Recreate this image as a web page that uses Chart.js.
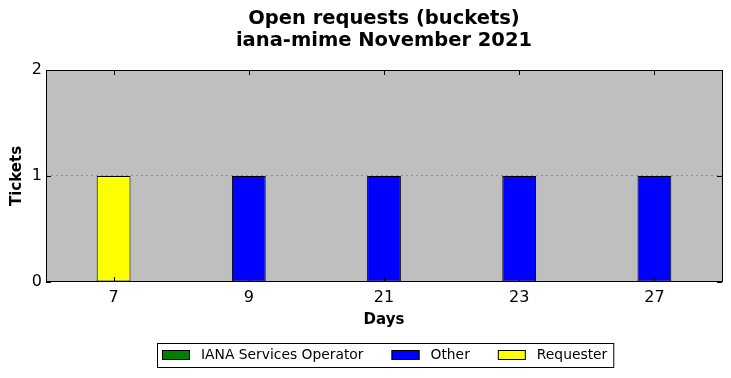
<!DOCTYPE html>
<html>
<head>
<title>Open requests (buckets)</title>
<script src="https://cdn.jsdelivr.net/npm/chart.js@4/dist/chart.umd.min.js"></script>
<style>
body { margin: 0; background: #ffffff; }
#wrap { width: 731px; height: 378px; }
</style>
</head>
<body>
<div id="wrap"><canvas id="myChart" width="731" height="378"></canvas></div>
<script>
// data
var days = ['7', '9', '21', '23', '27'];
var ianaOperator = [0, 0, 0, 0, 0];
var other = [0, 1, 1, 1, 1];
var requester = [1, 0, 0, 0, 0];
var yTicks = [0, 1, 2];

var font = 'DejaVu Sans';

// gray plot background, black frame, inward ticks and a boxed legend under the axis
var framePlugin = {
  id: 'frame',
  beforeDraw: function (chart) {
    var a = chart.chartArea, ctx = chart.ctx;
    ctx.save();
    ctx.fillStyle = '#bfbfbf';
    ctx.fillRect(a.left, a.top, a.right - a.left, a.bottom - a.top);
    ctx.restore();
  },
  afterDatasetsDraw: function (chart) {
    var a = chart.chartArea, ctx = chart.ctx;
    var xs = chart.scales.x, ys = chart.scales.y;
    ctx.save();
    ctx.strokeStyle = '#000000';
    ctx.lineWidth = 1;
    ctx.beginPath();
    xs.ticks.forEach(function (t, i) {
      var px = Math.round(xs.getPixelForTick(i)) + 0.5;
      ctx.moveTo(px, a.top); ctx.lineTo(px, a.top + 5);
      ctx.moveTo(px, a.bottom); ctx.lineTo(px, a.bottom - 5);
    });
    yTicks.forEach(function (v) {
      var py = Math.round(ys.getPixelForValue(v)) + 0.5;
      ctx.moveTo(a.left, py); ctx.lineTo(a.left + 5, py);
      ctx.moveTo(a.right, py); ctx.lineTo(a.right - 5, py);
    });
    ctx.stroke();
    ctx.strokeRect(Math.round(a.left) + 0.5, Math.round(a.top) + 0.5,
      Math.round(a.right - a.left), Math.round(a.bottom - a.top) - 1);
    ctx.restore();
  },
  afterDraw: function (chart) {
    var ctx = chart.ctx;
    var sets = chart.data.datasets;
    ctx.save();
    ctx.font = '13.85px "' + font + '"';
    ctx.textBaseline = 'middle';
    ctx.textAlign = 'left';
    var x = 162, yMid = 355, startX = x;
    sets.forEach(function (d, i) {
      ctx.fillStyle = d.backgroundColor;
      ctx.fillRect(x, 350, 28, 10);
      ctx.strokeStyle = '#000000';
      ctx.lineWidth = 1;
      ctx.strokeRect(x + 0.5, 350.5, 27, 9);
      ctx.fillStyle = '#000000';
      ctx.fillText(d.label, x + 39, yMid);
      x += 39 + ctx.measureText(d.label).width;
      if (i < sets.length - 1) x += 28;
    });
    ctx.strokeRect(startX - 4.5, 343.5, x - startX + 11, 24);
    ctx.restore();
  }
};

var edge = function (c) { return c.raw ? 1 : 0; };

var ctx = document.getElementById('myChart').getContext('2d');
var chart = new Chart(ctx, {
  type: 'bar',
  data: {
    labels: days,
    datasets: [
      { label: 'IANA Services Operator', data: ianaOperator, backgroundColor: '#008000', borderColor: '#000000', borderWidth: edge, borderSkipped: false },
      { label: 'Other', data: other, backgroundColor: '#0000ff', borderColor: '#000000', borderWidth: edge, borderSkipped: false },
      { label: 'Requester', data: requester, backgroundColor: '#ffff00', borderColor: '#000000', borderWidth: edge, borderSkipped: false }
    ]
  },
  options: {
    responsive: false,
    animation: false,
    layout: { padding: { left: 0, right: 9, top: 0, bottom: 39 } },
    datasets: { bar: { barPercentage: 0.25, categoryPercentage: 1.0 } },
    plugins: {
      title: {
        display: true,
        fullSize: false,
        text: ['Open requests (buckets)', 'iana-mime November 2021'],
        color: '#000000',
        font: { family: font, size: 19.5, weight: 'bold', lineHeight: 1.128 },
        padding: { top: 8, bottom: 18 }
      },
      legend: { display: false },
      tooltip: { enabled: false }
    },
    scales: {
      x: {
        stacked: true,
        afterFit: function (s) { s.height = 57; },
        grid: { display: false, drawTicks: false },
        border: { display: false },
        ticks: { color: '#000000', font: { family: font, size: 16 }, padding: 6, maxRotation: 0 },
        title: { display: true, text: 'Days', color: '#000000', font: { family: font, size: 15, weight: 'bold' }, padding: { top: 4, bottom: 10 } }
      },
      y: {
        stacked: true,
        min: 0,
        max: 2,
        afterFit: function (s) { s.width = 46; },
        afterBuildTicks: function (s) { s.ticks = yTicks.map(function (v) { return { value: v }; }); },
        grid: {
          color: function (c) { return c.tick && c.tick.value === 1 ? '#8c8c8c' : 'rgba(0,0,0,0)'; },
          drawTicks: false, lineWidth: 1
        },
        border: { display: false, dash: [2, 3] },
        ticks: { color: '#000000', font: { family: font, size: 16 }, padding: 4 },
        title: { display: true, text: 'Tickets', color: '#000000', font: { family: font, size: 15, weight: 'bold' }, padding: { top: 8, bottom: 0 } }
      }
    }
  },
  plugins: [framePlugin]
});
</script>
</body>
</html>
